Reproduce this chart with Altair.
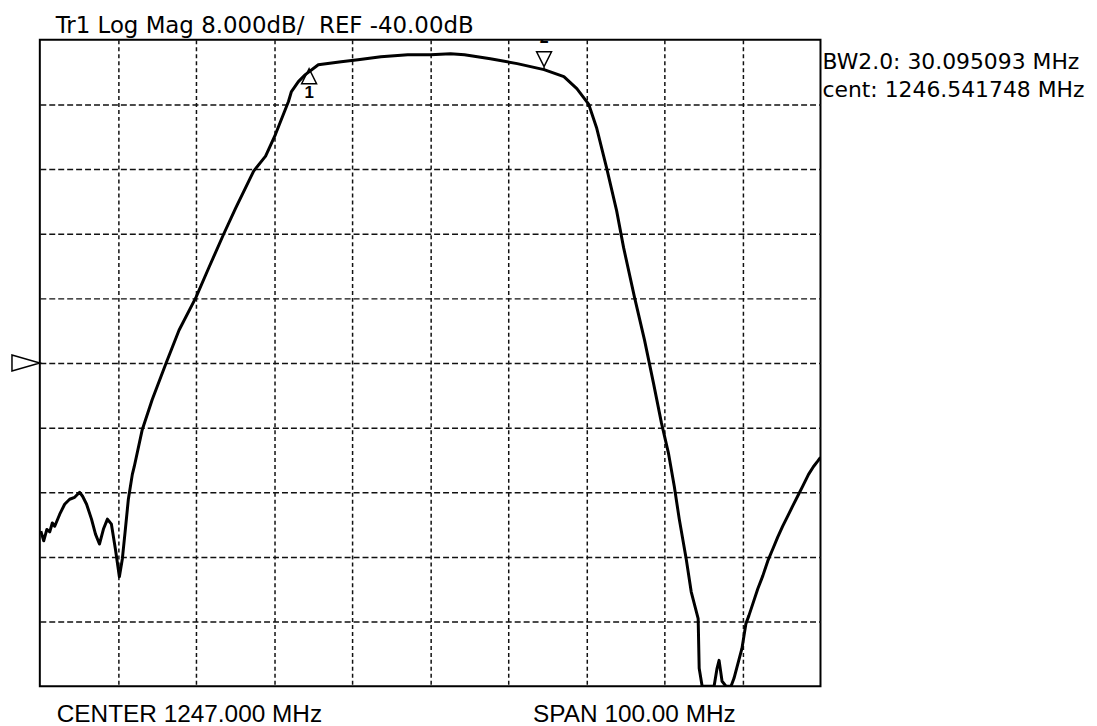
import altair as alt
import pandas as pd

# ---- data ----
freq_mhz = [
    1197.13, 1197.5, 1197.9, 1198.27, 1198.6, 1198.91, 1199.55, 1200.18, 1200.82, 1201.46,
    1202.10, 1202.48, 1202.99, 1203.62, 1204.13, 1204.64, 1205.15, 1205.66, 1206.17,
    1206.68, 1207.19, 1207.57, 1207.96, 1208.34, 1208.85, 1209.10, 1210.12, 1211.39,
    1213.18, 1214.83, 1217.00, 1218.66, 1220.57, 1222.10, 1224.39, 1225.92, 1227.19,
    1228.85, 1229.23, 1230.12, 1231.01, 1232.67, 1235.60, 1237.76, 1240.69, 1244.13,
    1247.06, 1249.61, 1251.39, 1254.71, 1258.15, 1261.59, 1264.13, 1265.79, 1267.32,
    1268.34, 1269.61, 1270.89, 1271.78, 1273.18, 1274.46, 1275.60, 1276.62, 1277.51,
    1278.27, 1278.91, 1279.80, 1280.44, 1281.33, 1281.46, 1281.84, 1282.61, 1283.37,
    1283.75, 1284.01, 1284.39, 1284.90, 1285.54, 1285.92, 1286.43, 1286.94, 1287.45,
    1287.83, 1288.34, 1288.97, 1289.61, 1290.25, 1290.89, 1291.52, 1292.16, 1292.80,
    1293.43, 1294.07, 1294.71, 1295.47, 1296.11, 1296.62, 1297.00,
]
trace_db = [
    -60.8, -62.0, -60.6, -60.9, -59.8, -60.2, -58.71, -57.48, -56.86, -56.62,
    -56.00, -56.49, -57.48, -59.32, -61.17, -62.40, -60.55, -59.32, -59.94,
    -63.02, -66.46, -64.25, -60.55, -56.86, -53.78, -52.80, -48.25, -44.55,
    -40.00, -35.94, -31.88, -28.18, -24.00, -20.80, -16.25, -14.40, -11.69,
    -7.63, -6.40, -5.17, -4.31, -3.08, -2.71, -2.46, -2.09, -1.85,
    -1.85, -1.72, -1.85, -2.34, -2.95, -3.69, -4.55, -6.03, -8.00,
    -10.95, -15.88, -21.17, -25.72, -31.88, -37.17, -42.46, -47.38, -51.08,
    -55.26, -59.32, -64.25, -68.31, -71.63, -77.78, -80.00, -80.00, -80.00,
    -77.78, -76.80, -79.38, -80.00, -80.00, -79.02, -77.17, -75.32, -72.25,
    -71.26, -69.78, -67.94, -66.34, -64.49, -63.02, -61.54, -60.18, -58.95,
    -57.72, -56.49, -55.26, -53.78, -52.80, -52.18, -51.69,
]

span_mhz = [1197, 1297]          # CENTER 1247 MHz, SPAN 100 MHz
level_db = [-80, 0]              # 8 dB/div, REF -40 dB at middle
x_grid_mhz = [1207, 1217, 1227, 1237, 1247, 1257, 1267, 1277, 1287]
y_grid_db = [-72, -64, -56, -48, -40, -32, -24, -16, -8]
ref_level_db = -40

marker_freq = [1231.494, 1261.589]
marker_db = [-4.5, -2.4]
marker_label = ["1", "2"]
marker_shape = ["M0,-1L1,1L-1,1Z", "M-1,-1L1,-1L0,1ZM0,1L0,1.5"]

title_text = "Tr1 Log Mag 8.000dB/\u00a0 REF -40.00dB"
bw_lines = ["BW2.0: 30.095093 MHz", "cent: 1246.541748 MHz"]
center_text = "CENTER 1247.000 MHz"
span_text = "SPAN 100.00 MHz"

W, H = 785, 650

trace_df = pd.DataFrame({"f": freq_mhz, "db": trace_db, "i": range(len(freq_mhz))})
mk_df = pd.DataFrame({"f": marker_freq, "db": marker_db, "label": marker_label,
                      "shape": marker_shape})

x_enc = alt.X("f:Q", scale=alt.Scale(domain=span_mhz, nice=False, zero=False),
              axis=alt.Axis(values=x_grid_mhz, grid=True, labels=False, ticks=False,
                            domain=False, title=None, gridDash=[4, 3],
                            gridColor="#111111", gridWidth=1.5))
y_enc = alt.Y("db:Q", scale=alt.Scale(domain=level_db, nice=False, zero=False),
              axis=alt.Axis(values=y_grid_db, grid=True, labels=False, ticks=False,
                            domain=False, title=None, gridDash=[6, 3],
                            gridColor="#111111", gridWidth=1.5))

trace = alt.Chart(trace_df).mark_line(color="black", strokeWidth=3, clip=True,
                                      strokeJoin="round").encode(
    x=x_enc, y=y_enc, order="i:Q")

markers = alt.Chart(mk_df).mark_point(filled=False, color="black", strokeWidth=1.5,
                                      size=225, opacity=1).encode(
    x="f:Q", y="db:Q", shape=alt.Shape("shape:N", scale=None))

m1_label = alt.Chart(mk_df).transform_filter(alt.datum.label == "1").mark_text(
    fontSize=17, fontWeight="bold", font="Liberation Sans", color="black",
    dy=22, baseline="alphabetic").encode(x="f:Q", y="db:Q", text="label:N")
m2_label = alt.Chart(mk_df).transform_filter(alt.datum.label == "2").mark_text(
    fontSize=16, fontWeight="bold", font="Liberation Sans", color="black",
    dy=-16, baseline="alphabetic", clip=True).encode(x="f:Q", y="db:Q", text="label:N")

ref_df = pd.DataFrame({"db": [ref_level_db]})
ref_mark = alt.Chart(ref_df).mark_point(
    shape="M-1,-0.57L1,0L-1,0.57Z", filled=False, color="black", strokeWidth=1.5,
    size=784, opacity=1).encode(x=alt.value(-14), y="db:Q")


def label(text, x, y, size, font, align="left"):
    return alt.Chart(pd.DataFrame({"t": [text]})).mark_text(
        align=align, baseline="alphabetic", fontSize=size, font=font,
        color="black").encode(x=alt.value(x), y=alt.value(y), text="t:N")


texts = [
    label(title_text, 16, -7, 23, "DejaVu Sans"),
    label(bw_lines[0], 787, 29, 22, "DejaVu Sans"),
    label(bw_lines[1], 787, 58, 22, "DejaVu Sans"),
    label(center_text, 17, 686, 24.5, "Liberation Sans"),
    label(span_text, 496, 686, 24.5, "Liberation Sans"),
]

chart = alt.layer(trace, markers, m1_label, m2_label, ref_mark, *texts).properties(
    width=W, height=H,
    autosize=alt.AutoSizeParams(type="none"),
    padding={"left": 32, "top": 30, "right": 270, "bottom": 38},
    background="white",
).configure_view(stroke="black", strokeWidth=2)

chart.save("out.html", embed_options={"renderer": "svg", "actions": False})
